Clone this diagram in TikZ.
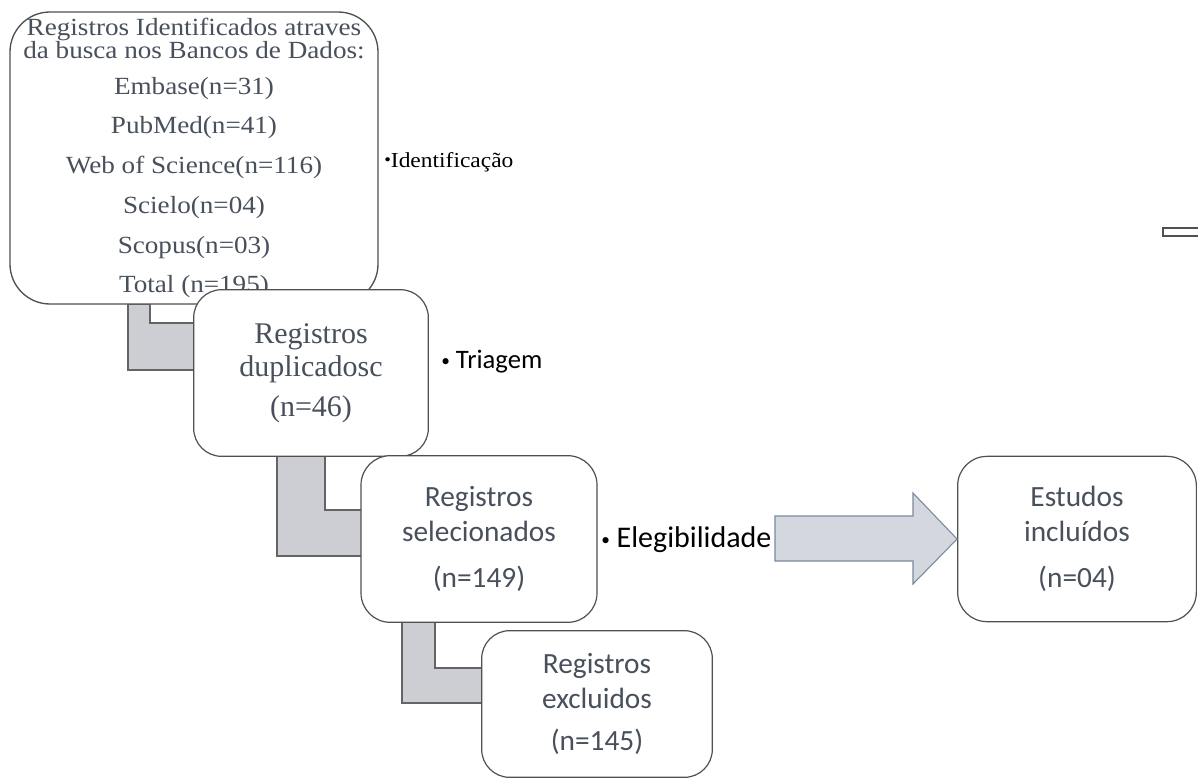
\documentclass[tikz,border=0pt]{standalone}
\usepackage{fontspec}
\setmainfont{Liberation Serif}
\newfontfamily\wideserif[FakeStretch=1.1]{Liberation Serif}
\newfontfamily\calib{Carlito}
\usetikzlibrary{positioning,backgrounds}

\definecolor{boxtext}{RGB}{72,80,92}
\definecolor{boxline}{RGB}{80,80,80}
\definecolor{lfill}{RGB}{204,206,211}
\definecolor{lline}{RGB}{100,100,100}
\definecolor{arrfill}{RGB}{212,215,222}
\definecolor{arrline}{RGB}{120,138,160}

\newcommand{\smdot}{\raisebox{1.5pt}{\fontsize{13}{13}\selectfont•}}

\begin{document}
\begin{tikzpicture}[x=0.75pt,y=-0.75pt,
  stage/.style={draw=boxline,line width=0.9pt,fill=white,align=center,text=boxtext,inner sep=0pt},
  lconn/.style={fill=lfill,draw=lline,line width=0.8pt},
  bigarrow/.style={fill=arrfill,draw=arrline,line width=0.8pt},
  tag/.style={anchor=west,inner sep=0pt,text=black}]
  \useasboundingbox (0,0) rectangle (1198,778);

  % caixas
  \node[stage,rounded corners=30pt,minimum width=276pt,minimum height=219pt,line width=1pt,
        font={\wideserif\fontsize{18.5}{14.5}\selectfont}] (ident) at (194,158)
    {Registros Identificados atraves\\da busca nos Bancos de Dados:\\[12pt]
     Embase(n=31)\\[12pt]PubMed(n=41)\\[12pt]Web of Science(n=116)\\[12pt]
     Scielo(n=04)\\[12pt]Scopus(n=03)\\[12pt]Total (n=195)};
  \node[stage,rounded corners=21pt,minimum width=176pt,minimum height=125pt,
        font={\fontsize{22.5}{25}\selectfont}] (dup) at (311,373)
    {Registros\\duplicadosc\\[5pt](n=46)};
  \node[stage,rounded corners=22pt,minimum width=177pt,minimum height=125pt,
        font={\calib\fontsize{22}{26}\selectfont}] (sel) at (479,539)
    {Registros\\selecionados\\[9pt](n=149)};
  \node[stage,rounded corners=21pt,minimum width=173pt,minimum height=110pt,
        font={\calib\fontsize{22}{26}\selectfont}] (exc) at (597,704)
    {Registros\\excluidos\\[6pt](n=145)};
  \node[stage,rounded corners=22pt,minimum width=179pt,minimum height=124pt,
        font={\calib\fontsize{22}{26}\selectfont}] (inc) at (1077,539)
    {Estudos\\incluídos\\[9pt](n=04)};

  % etapas
  \node[tag,font={\wideserif\fontsize{16}{18}\selectfont}] (idlab) at (384,162) {\smdot Identificação};
  \node[tag,font={\calib\fontsize{20}{24}\selectfont}] (tri) at (441,362) {\smdot\ Triagem};
  \node[tag,font={\calib\fontsize{22.5}{26}\selectfont}] (elig) at (601,540) {\smdot\ Elegibilidade};

  % conectores em L
  \begin{scope}[on background layer]
    \filldraw[lconn] (128,304) -- (150,304) -- (150,323) -- (194,323) -- (194,370) -- (128,370) -- cycle;
    \filldraw[lconn] (277,456) -- (325,456) -- (325,510) -- (362,510) -- (362,556) -- (277,556) -- cycle;
    \filldraw[lconn] (402,622) -- (435,622) -- (435,668) -- (482,668) -- (482,703) -- (402,703) -- cycle;
  \end{scope}

  % seta
  \filldraw[bigarrow] (775,516) -- (913,516) -- (913,493) -- (inc.west) -- (913,584) -- (913,561) -- (775,561) -- cycle;

  \draw[boxline,line width=1pt] (1198,228) -- (1163,228) -- (1163,236) -- (1198,236);
\end{tikzpicture}
\end{document}
